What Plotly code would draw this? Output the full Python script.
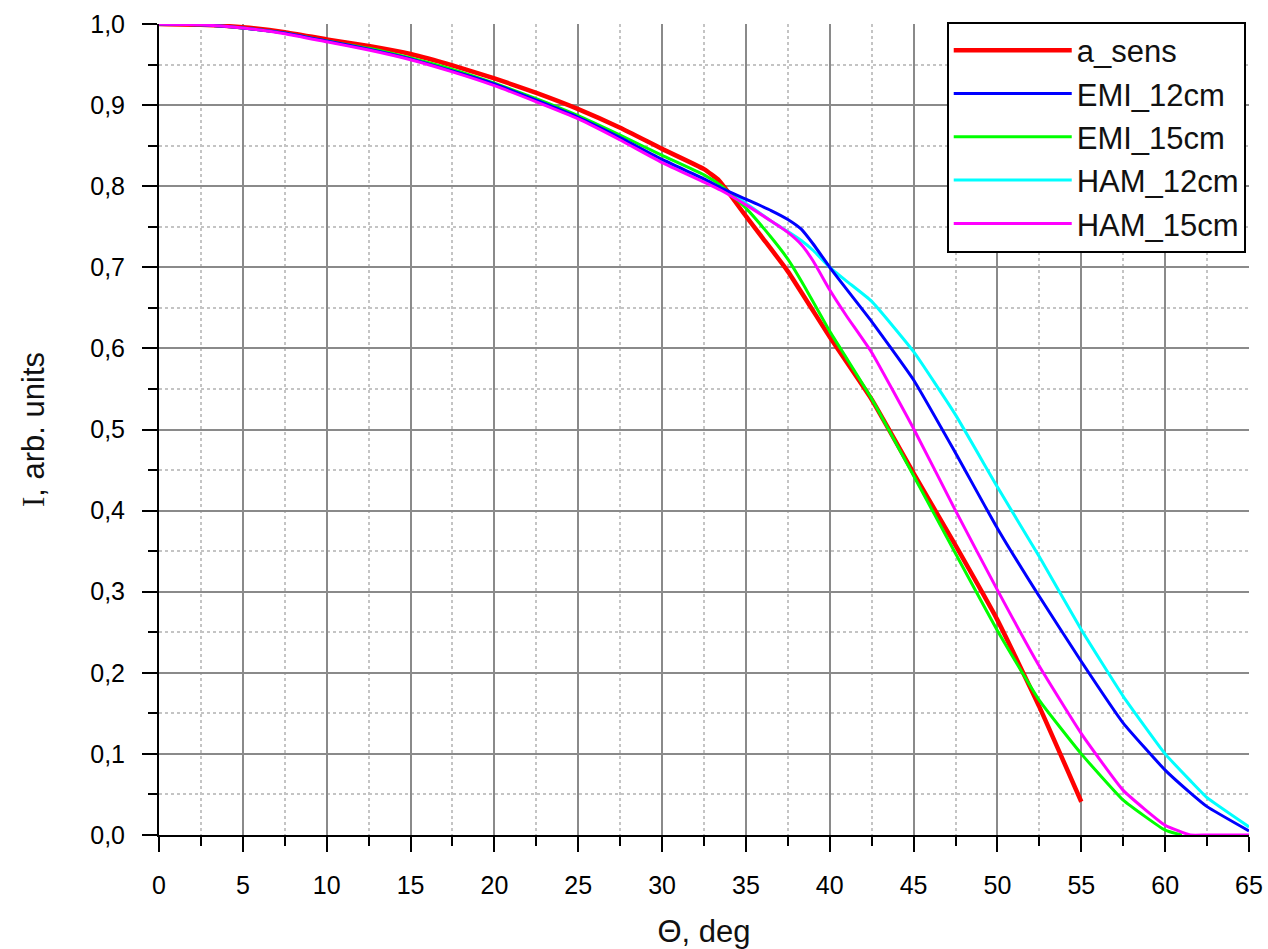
import plotly.graph_objects as go

# Angular dependence of the normalised intensity for the sensor and four PMT setups
theta_a = [0, 2.5, 5, 7.5, 10, 12.5, 15, 17.5, 20, 22.5, 25, 27.5, 30, 32.5, 33.4,
           35, 36, 37.5, 40, 42.5, 45, 47.5, 50, 52.5, 55]
a_sens = [1.000, 0.999, 0.996, 0.990, 0.981, 0.973, 0.963, 0.949, 0.933, 0.915, 0.895,
          0.872, 0.846, 0.821, 0.807, 0.763, 0.736, 0.695, 0.614, 0.537, 0.446, 0.357,
          0.265, 0.158, 0.041]

theta = [0, 2.5, 5, 7.5, 10, 12.5, 15, 17.5, 20, 22.5, 25, 27.5, 30, 32.5, 33.5,
         35, 36.5, 37.5, 38.3, 39, 40, 41, 42.5, 45, 47.5, 50, 52.5, 55, 57.5, 60, 61.5,
         62.5, 65]
emi_12 = [1.000, 0.999, 0.995, 0.989, 0.979, 0.969, 0.957, 0.942, 0.926, 0.906, 0.885,
          0.860, 0.833, 0.809, 0.798, 0.784, 0.770, 0.759, 0.747, 0.729, 0.700, 0.673,
          0.633, 0.561, 0.471, 0.378, 0.294, 0.214, 0.138, 0.080, 0.052, 0.035, 0.005]
ham_12 = [1.000, 0.999, 0.995, 0.989, 0.979, 0.969, 0.957, 0.942, 0.925, 0.905, 0.884,
          0.859, 0.831, 0.807, 0.797, 0.779, 0.757, 0.744, 0.733, 0.721, 0.700, 0.683,
          0.658, 0.596, 0.518, 0.429, 0.343, 0.253, 0.171, 0.100, 0.067, 0.046, 0.010]
ham_15 = [1.000, 0.999, 0.995, 0.988, 0.978, 0.968, 0.956, 0.941, 0.924, 0.904, 0.883,
          0.857, 0.829, 0.805, 0.795, 0.777, 0.757, 0.743, 0.728, 0.708, 0.672, 0.640,
          0.595, 0.501, 0.400, 0.302, 0.208, 0.125, 0.055, 0.012, 0.000, 0.000, 0.000]

theta_g = [0, 2.5, 5, 7.5, 10, 12.5, 15, 17.5, 20, 22.5, 25, 27.5, 30, 32.5, 33.5,
           35, 36.5, 37.5, 38.5, 40, 41, 42.5, 45, 47.5, 50, 52.5, 55, 57.5, 60, 61]
emi_15 = [1.000, 0.999, 0.995, 0.989, 0.979, 0.970, 0.958, 0.944, 0.927, 0.908, 0.887,
          0.863, 0.838, 0.814, 0.801, 0.773, 0.737, 0.710, 0.676, 0.621, 0.588, 0.538,
          0.443, 0.347, 0.252, 0.166, 0.100, 0.043, 0.006, 0.000]

x_ticks = list(range(0, 70, 5))
y_ticks = [i / 10 for i in range(11)]

FONT = "Liberation Sans, Arial, sans-serif"

# (name, x, y, colour, width, legend rank) in drawing order
series = [
    ("HAM_12cm", theta, ham_12, "#00ffff", 3, 4),
    ("a_sens", theta_a, a_sens, "#ff0000", 4.5, 1),
    ("EMI_15cm", theta_g, emi_15, "#00ff00", 3, 3),
    ("EMI_12cm", theta, emi_12, "#0000ff", 3, 2),
    ("HAM_15cm", theta, ham_15, "#ff00ff", 3, 5),
]

fig = go.Figure()
for name, xs, ys, color, width, rank in series:
    fig.add_trace(go.Scatter(
        x=xs, y=ys, mode="lines", name=name,
        line=dict(color=color, width=width, shape="spline", smoothing=0.4),
        legendrank=rank, legendgroup=name, hoverinfo="skip",
    ))

axis_common = dict(
    showline=True, linecolor="black", linewidth=2,
    ticks="outside", ticklen=15, tickwidth=2, tickcolor="black",
    showgrid=True, gridcolor="#8a8a8a", gridwidth=2,
    zeroline=False, mirror=False,
    tickfont=dict(family=FONT, size=25, color="#000000"),
    ticklabelstandoff=12,
)

fig.update_xaxes(
    range=[0, 65], tickvals=x_ticks, ticktext=[str(v) for v in x_ticks],
    minor=dict(dtick=2.5, tick0=0, ticks="outside", ticklen=9, tickwidth=2,
               tickcolor="black", showgrid=True, gridcolor="#c4c4c4",
               griddash="dot", gridwidth=1.5),
    title=dict(text="Θ, deg", font=dict(family=FONT, size=31, color="#111111"),
               standoff=22),
    **axis_common,
)
fig.update_yaxes(
    range=[0, 1.0], tickvals=y_ticks,
    ticktext=[f"{v:.1f}".replace(".", ",") for v in y_ticks],
    minor=dict(dtick=0.05, tick0=0, ticks="outside", ticklen=9, tickwidth=2,
               tickcolor="black", showgrid=True, gridcolor="#c4c4c4",
               griddash="dot", gridwidth=1.5),
    title=dict(text="<span style='font-family:Liberation Serif'>I</span>, arb. units",
               font=dict(family=FONT, size=31, color="#111111"), standoff=36),
    **axis_common,
)

fig.update_layout(
    width=1268, height=949,
    margin=dict(l=159, r=19, t=24, b=114, autoexpand=False),
    paper_bgcolor="white", plot_bgcolor="white",
    showlegend=True,
    legend=dict(
        x=0.997, y=1.003, xanchor="right", yanchor="top",
        bgcolor="white", bordercolor="black", borderwidth=2,
        font=dict(family=FONT, size=31, color="#111111"),
        itemwidth=118, tracegroupgap=16, traceorder="normal",
    ),
)

fig.write_html("out.html", config={"displayModeBar": False})
